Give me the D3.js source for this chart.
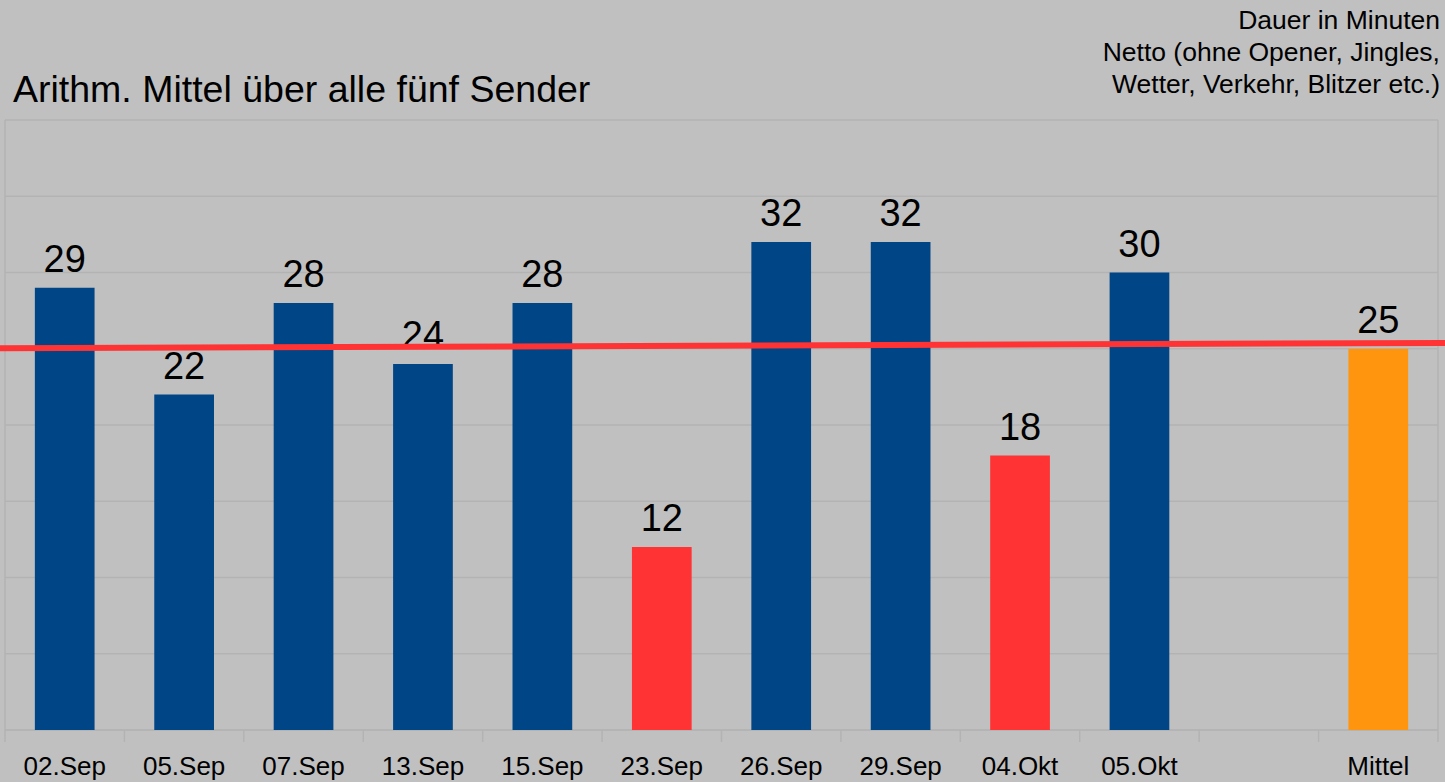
<!DOCTYPE html>
<html>
<head>
<meta charset="utf-8">
<script src="https://cdn.jsdelivr.net/npm/d3@7"></script>
<style>
  html, body { margin: 0; padding: 0; background: #c0c0c0; }
  svg { display: block; font-family: "Liberation Sans", Arial, sans-serif; }
</style>
</head>
<body>
<div id="chart"></div>
<script>
// categories and values
const categories = ["02.Sep", "05.Sep", "07.Sep", "13.Sep", "15.Sep", "23.Sep",
                    "26.Sep", "29.Sep", "04.Okt", "05.Okt", "", "Mittel"];
const values = [29, 22, 28, 24, 28, 12, 32, 32, 18, 30, null, 25];
const barKinds = ["normal", "normal", "normal", "normal", "normal", "low",
                  "normal", "normal", "low", "normal", null, "mean"];
const yTicks = [0, 5, 10, 15, 20, 25, 30, 35, 40];
// trend line, value at left and right edge of the picture
const trendEnds = [25.03, 25.38];
const noteLines = ["Dauer in Minuten", "Netto (ohne Opener, Jingles,", "Wetter, Verkehr, Blitzer etc.)"];

const colors = { normal: "#004586", low: "#ff3333", mean: "#ff950e" };

const W = 1445, H = 782;
const plot = { left: 5, right: 1438, top: 120, bottom: 730 };

const svg = d3.select("#chart").append("svg")
    .attr("width", W)
    .attr("height", H);

svg.append("rect").attr("width", W).attr("height", H).attr("fill", "#c0c0c0");

const x = d3.scaleBand()
    .domain(d3.range(categories.length))
    .range([plot.left, plot.right])
    .paddingInner(0.5)
    .paddingOuter(0.25);

const xOuter = d3.scaleBand()
    .domain(d3.range(categories.length))
    .range([plot.left, plot.right]);

const y = d3.scaleLinear()
    .domain([0, 40])
    .range([plot.bottom, plot.top]);

// gridlines
svg.append("g")
    .selectAll("line")
    .data(yTicks)
    .join("line")
    .attr("x1", plot.left)
    .attr("x2", plot.right)
    .attr("y1", d => y(d))
    .attr("y2", d => y(d))
    .attr("stroke", "#b3b3b3")
    .attr("stroke-width", 1.5);

// left and right frame lines
svg.append("g")
    .selectAll("line")
    .data([plot.left, plot.right])
    .join("line")
    .attr("x1", d => d).attr("x2", d => d)
    .attr("y1", plot.top).attr("y2", plot.bottom)
    .attr("stroke", "#b3b3b3")
    .attr("stroke-width", 1.5);

// x axis with ticks at the band edges
const xAxis = svg.append("g")
    .attr("transform", `translate(0,${plot.bottom})`);
xAxis.append("line")
    .attr("x1", plot.left).attr("x2", plot.right)
    .attr("stroke", "#b3b3b3").attr("stroke-width", 1.5);
xAxis.selectAll("line.tick")
    .data(d3.range(categories.length + 1))
    .join("line")
    .attr("class", "tick")
    .attr("x1", i => plot.left + i * xOuter.step())
    .attr("x2", i => plot.left + i * xOuter.step())
    .attr("y1", 0).attr("y2", 12)
    .attr("stroke", "#b3b3b3").attr("stroke-width", 1.5);
xAxis.selectAll("text")
    .data(categories)
    .join("text")
    .attr("x", (d, i) => xOuter(i) + xOuter.bandwidth() / 2)
    .attr("y", 45)
    .attr("text-anchor", "middle")
    .attr("font-size", 26)
    .attr("fill", "#000")
    .text(d => d);

const bars = categories.map((c, i) => ({ i, v: values[i], kind: barKinds[i] }))
    .filter(d => d.v != null);

svg.append("g")
    .selectAll("rect")
    .data(bars)
    .join("rect")
    .attr("x", d => x(d.i))
    .attr("y", d => y(d.v))
    .attr("width", x.bandwidth())
    .attr("height", d => y(0) - y(d.v))
    .attr("fill", d => colors[d.kind]);

svg.append("g")
    .selectAll("text")
    .data(bars)
    .join("text")
    .attr("x", d => x(d.i) + x.bandwidth() / 2)
    .attr("y", d => y(d.v) - 16)
    .attr("text-anchor", "middle")
    .attr("font-size", 38)
    .attr("fill", "#000")
    .text(d => d.v);

// trend line across the whole width
svg.append("line")
    .attr("x1", 0).attr("x2", W)
    .attr("y1", y(trendEnds[0]))
    .attr("y2", y(trendEnds[1]))
    .attr("stroke", "#ff3333")
    .attr("stroke-width", 6);

// titles
svg.append("text")
    .attr("x", 13)
    .attr("y", 102)
    .attr("font-size", 37.5)
    .attr("fill", "#000")
    .text("Arithm. Mittel über alle fünf Sender");

svg.append("g")
    .selectAll("text")
    .data(noteLines)
    .join("text")
    .attr("x", 1440)
    .attr("y", (d, i) => 29 + i * 32)
    .attr("text-anchor", "end")
    .attr("font-size", 26.5)
    .attr("fill", "#000")
    .text(d => d);
</script>
</body>
</html>
